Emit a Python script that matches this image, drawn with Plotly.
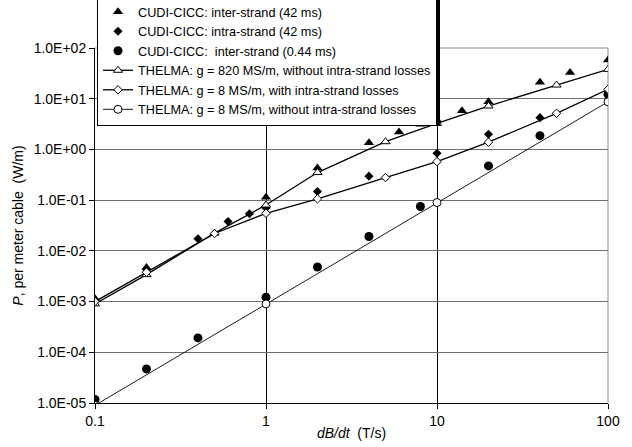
import plotly.graph_objects as go

# ---- measured data: CUDI-CICC simulations (markers only) ----
inter42_x = [0.1, 0.2, 1, 2, 4, 6, 8, 10, 14, 20, 40, 60, 100]
inter42_y = [1.14e-3, 4.7e-3, 0.114, 0.43, 1.36, 2.2, 3.15, 3.8, 5.8, 8.7, 21.0, 33.0, 58.0]

intra42_x = [0.1, 0.2, 0.4, 0.6, 0.8, 1, 2, 4, 10, 20, 40, 100]
intra42_y = [1.1e-3, 4.3e-3, 0.0173, 0.038, 0.054, 0.070, 0.148, 0.297, 0.84, 1.99, 4.23, 13.7]

inter044_x = [0.1, 0.2, 0.4, 1, 2, 4, 8, 20, 40, 100]
inter044_y = [1.17e-5, 4.7e-5, 1.92e-4, 1.22e-3, 4.8e-3, 0.0192, 0.0748, 0.473, 1.87, 12.2]

# ---- THELMA computations (lines with open markers) ----
th820_x = [0.1, 0.2, 0.5, 1, 2, 5, 10, 20, 50, 100]
th820_y = [0.9e-3, 3.4e-3, 0.0224, 0.080, 0.35, 1.42, 3.28, 7.18, 18.6, 37.9]

th8w_x = [0.1, 0.2, 0.5, 1, 2, 5, 10, 20, 50, 100]
th8w_y = [1.0e-3, 3.8e-3, 0.022, 0.055, 0.106, 0.279, 0.575, 1.39, 5.16, 15.3]

th8wo_x = [0.1, 1, 10, 100]
th8wo_y = [9.0e-6, 9.0e-4, 0.0897, 8.7]

# ---- tick labels ----
x_ticks = [0.1, 1, 10, 100]
x_ticktext = ["0.1", "1", "10", "100"]
y_ticks = [1e-5, 1e-4, 1e-3, 1e-2, 1e-1, 1e0, 1e1, 1e2]
y_ticktext = ["1.0E-05", "1.0E-04", "1.0E-03", "1.0E-02",
              "1.0E-01", "1.0E+00", "1.0E+01", "1.0E+02"]

names = [
    "CUDI-CICC: inter-strand (42 ms)",
    "CUDI-CICC: intra-strand (42 ms)",
    "CUDI-CICC:\u00a0 inter-strand (0.44 ms)",
    "THELMA: g = 820 MS/m, without intra-strand losses",
    "THELMA: g = 8 MS/m, with intra-strand losses",
    "THELMA: g = 8 MS/m, without intra-strand losses",
]

FONT = "Liberation Sans, Arial, sans-serif"

fig = go.Figure()

fig.add_trace(go.Scatter(x=inter42_x, y=inter42_y, mode="markers", name=names[0],
                         marker=dict(symbol="triangle-up", size=9, color="black")))
fig.add_trace(go.Scatter(x=intra42_x, y=intra42_y, mode="markers", name=names[1],
                         marker=dict(symbol="diamond", size=7, color="black")))
fig.add_trace(go.Scatter(x=inter044_x, y=inter044_y, mode="markers", name=names[2],
                         marker=dict(symbol="circle", size=9, color="black")))

open_marker = dict(color="white", line=dict(color="black", width=1))
fig.add_trace(go.Scatter(x=th820_x, y=th820_y, mode="lines+markers", name=names[3],
                         line=dict(color="black", width=1.3),
                         marker=dict(symbol="triangle-up", size=8, **open_marker)))
fig.add_trace(go.Scatter(x=th8w_x, y=th8w_y, mode="lines+markers", name=names[4],
                         line=dict(color="black", width=1.3),
                         marker=dict(symbol="diamond", size=6.5, **open_marker)))
fig.add_trace(go.Scatter(x=th8wo_x, y=th8wo_y, mode="lines+markers", name=names[5],
                         line=dict(color="black", width=0.9),
                         marker=dict(symbol="circle", size=8, **open_marker)))

W, H = 632, 447
ML, MR, MT, MB = 95, 24, 48, 44
PW, PH = W - ML - MR, H - MT - MB


def px_to_paper(px, py):
    return (px - ML) / PW, (H - MB - py) / PH


# legend box position and its drop shadow
lx0, ly0 = px_to_paper(97, -4)
sx0, sy0 = px_to_paper(100, 0)
sx1, sy1 = px_to_paper(440, 126)

fig.update_layout(
    width=W, height=H,
    margin=dict(l=ML, r=MR, t=MT, b=MB, autoexpand=False),
    paper_bgcolor="white", plot_bgcolor="white",
    font=dict(family=FONT, size=14, color="black"),
    showlegend=True,
    legend=dict(x=lx0, y=ly0, xanchor="left", yanchor="top",
                bgcolor="white", bordercolor="black", borderwidth=1,
                font=dict(family=FONT, size=12.7, color="black"),
                tracegroupgap=0, itemsizing="trace"),
    shapes=[
        # drop shadow behind the legend
        dict(type="rect", xref="paper", yref="paper", x0=sx0, y0=sy0, x1=sx1, y1=sy1,
             fillcolor="black", line=dict(width=0), layer="above"),
        # top and right frame of the plot area
        dict(type="line", xref="paper", yref="paper", x0=0, x1=1, y0=1, y1=1,
             line=dict(color="#8c8c8c", width=1), layer="between"),
        dict(type="line", xref="paper", yref="paper", x0=1, x1=1, y0=0, y1=1,
             line=dict(color="#8c8c8c", width=1), layer="between"),
    ],
)

fig.update_xaxes(type="log", range=[-1, 2],
                 tickvals=x_ticks, ticktext=x_ticktext,
                 showgrid=True, gridcolor="black", gridwidth=1,
                 showline=True, linecolor="black", linewidth=1,
                 ticks="outside", ticklen=5, tickcolor="black",
                 tickfont=dict(size=14),
                 zeroline=False,
                 title=dict(text="<i>dB/dt</i>\u00a0 (T/s)", font=dict(size=14), standoff=0))
fig.update_yaxes(type="log", range=[-5, 2],
                 tickvals=y_ticks, ticktext=y_ticktext,
                 showgrid=True, gridcolor="#6e6e6e", gridwidth=1,
                 showline=True, linecolor="black", linewidth=1,
                 ticks="outside", ticklen=5, tickcolor="black",
                 tickfont=dict(size=14),
                 zeroline=False,
                 title=dict(text="<i>P</i>, per meter cable\u00a0 (W/m)", font=dict(size=14), standoff=6))

fig.write_html("out.html")
